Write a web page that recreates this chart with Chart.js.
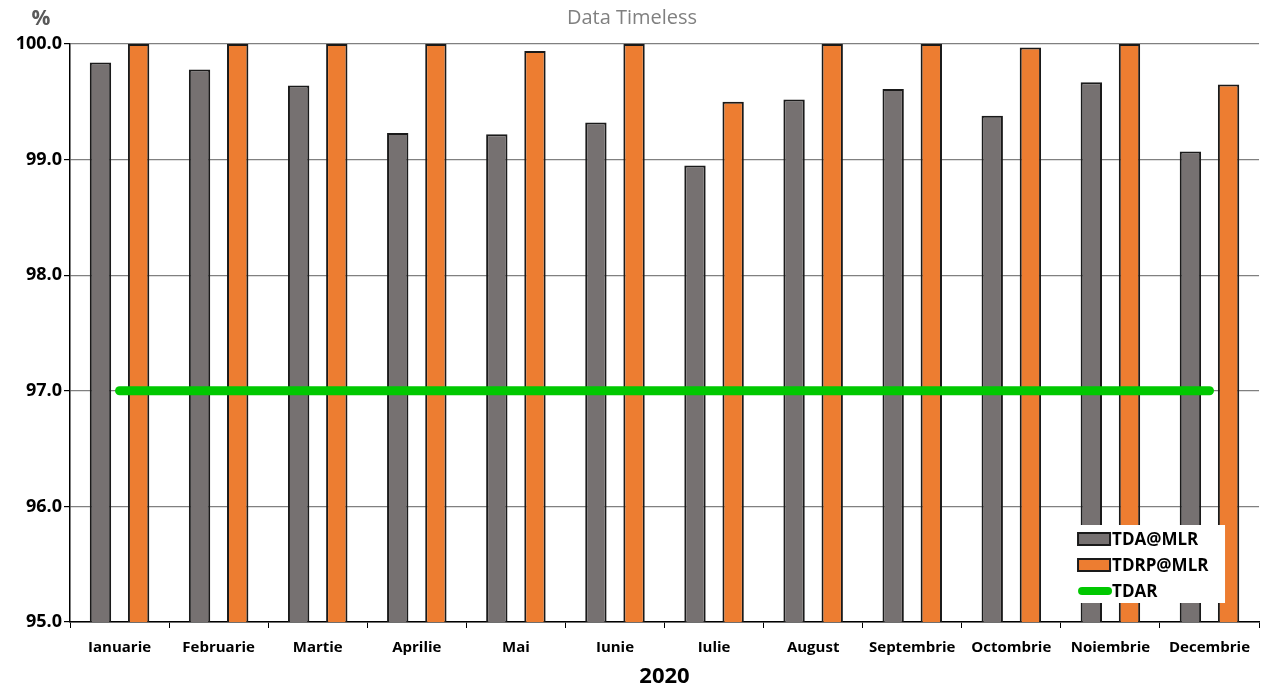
<!DOCTYPE html>
<html>
<head>
<meta charset="utf-8">
<title>Data Timeless</title>
<script src="https://cdn.jsdelivr.net/npm/chart.js@4/dist/chart.umd.min.js"></script>
<style>
  html, body { margin: 0; padding: 0; background: #fff; }
  #wrap { width: 1261px; height: 690px; }
</style>
</head>
<body>
<div id="wrap"><canvas id="timelessChart" width="1261" height="690"></canvas></div>
<script>
// months of 2020
const months = ["Ianuarie", "Februarie", "Martie", "Aprilie", "Mai", "Iunie",
  "Iulie", "August", "Septembrie", "Octombrie", "Noiembrie", "Decembrie"];

// monthly percentages
const tdaMlr = [99.84, 99.78, 99.64, 99.23, 99.22, 99.32, 98.95, 99.52, 99.61, 99.38, 99.67, 99.07];
const tdrpMlr = [100, 100, 100, 100, 99.94, 100, 99.50, 100, 100, 99.97, 100, 99.65];
const tdar = [97, 97, 97, 97, 97, 97, 97, 97, 97, 97, 97, 97];

const yTicks = [95, 96, 97, 98, 99, 100];

const FONT = "'Open Sans', 'Liberation Sans', sans-serif";

// "%" unit label above the y axis
const unitLabel = {
  id: "unitLabel",
  afterDraw(chart) {
    const ctx = chart.ctx;
    ctx.save();
    ctx.font = "bold 21px " + FONT;
    ctx.fillStyle = "#595959";
    ctx.textAlign = "center";
    ctx.textBaseline = "middle";
    ctx.fillText("%", 41, 19);
    ctx.restore();
  },
};

// boxed legend sitting in the lower right of the plot
const boxLegend = {
  id: "boxLegend",
  afterDraw(chart) {
    const ctx = chart.ctx;
    const area = chart.chartArea;
    const w = 160, h = 78;
    const x = area.right - 34 - w;
    const y = area.bottom - 19 - h;
    ctx.save();
    ctx.fillStyle = "#fff";
    ctx.fillRect(x, y, w, h);
    ctx.font = "bold 17px " + FONT;
    ctx.textBaseline = "middle";
    ctx.textAlign = "left";
    chart.data.datasets.forEach((ds, i) => {
      const cy = y + 14 + i * 26;
      const sx = x + 13;
      if (ds.type === "line") {
        ctx.strokeStyle = ds.borderColor;
        ctx.lineWidth = 8;
        ctx.lineCap = "round";
        ctx.beginPath();
        ctx.moveTo(sx + 4, cy);
        ctx.lineTo(sx + 30, cy);
        ctx.stroke();
      } else {
        ctx.fillStyle = ds.backgroundColor;
        ctx.fillRect(sx, cy - 6, 32, 12);
        ctx.strokeStyle = "#1a1a1a";
        ctx.lineWidth = 2;
        ctx.strokeRect(sx, cy - 6, 32, 12);
      }
      ctx.fillStyle = "#000";
      ctx.fillText(ds.label, sx + 34, cy + 1);
    });
    ctx.restore();
  },
};

const chart = new Chart(document.getElementById("timelessChart"), {
  type: "bar",
  data: {
    labels: months,
    datasets: [
      {
        label: "TDA@MLR",
        data: tdaMlr,
        backgroundColor: "#767171",
        borderColor: "#1a1a1a",
        borderWidth: 2,
        order: 1,
      },
      {
        label: "TDRP@MLR",
        data: tdrpMlr,
        backgroundColor: "#ED7D31",
        borderColor: "#1a1a1a",
        borderWidth: 2,
        order: 1,
      },
      {
        type: "line",
        label: "TDAR",
        data: tdar,
        borderColor: "#00C800",
        borderWidth: 9,
        borderCapStyle: "round",
        pointRadius: 0,
        fill: false,
        order: 0,
      },
    ],
  },
  options: {
    responsive: false,
    animation: false,
    layout: { padding: { left: 0, right: -3, top: 0, bottom: 0 } },
    datasets: {
      bar: { categoryPercentage: 0.77, barPercentage: 0.56 },
    },
    plugins: {
      legend: { display: false },
      tooltip: { enabled: false },
      title: {
        display: true,
        text: "Data Timeless",
        color: "#808080",
        font: { family: FONT, size: 20, weight: "normal", lineHeight: 1.2 },
        padding: { top: 6, bottom: 14 },
      },
    },
    scales: {
      x: {
        grid: {
          offset: true,
          drawOnChartArea: false,
          tickLength: 6,
          color: "#000",
        },
        border: { color: "#000", width: 1.5 },
        ticks: {
          color: "#000",
          padding: 11,
          maxRotation: 0,
          autoSkip: false,
          font: { family: FONT, size: 15, weight: "bold" },
        },
        title: {
          display: true,
          text: "2020",
          color: "#000",
          font: { family: FONT, size: 22, weight: "bold", lineHeight: 1.2 },
          padding: { top: 0, bottom: 0 },
        },
        afterFit(scale) { scale.height = 68; },
      },
      y: {
        min: 95,
        max: 100,
        afterBuildTicks(scale) {
          scale.ticks = yTicks.map((v) => ({ value: v }));
        },
        grid: { color: "#808080", lineWidth: 1.2, tickLength: 6, tickColor: "#000" },
        border: { color: "#000", width: 1.5 },
        ticks: {
          color: "#000",
          padding: 2,
          font: { family: FONT, size: 18, weight: "bold" },
          callback: (v) => Number(v).toFixed(1),
        },
        afterFit(scale) { scale.width = 70; },
      },
    },
  },
  plugins: [unitLabel, boxLegend],
});
</script>
</body>
</html>
